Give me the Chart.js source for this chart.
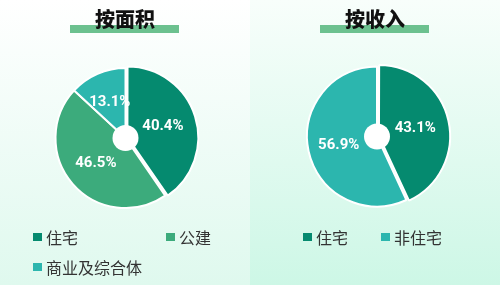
<!DOCTYPE html>
<html>
<head>
<meta charset="utf-8">
<script src="https://cdn.jsdelivr.net/npm/chart.js@4/dist/chart.umd.min.js"></script>
<style>
  html, body { margin: 0; padding: 0; width: 500px; height: 285px; overflow: hidden; }
  body { position: relative; font-family: "Noto Sans CJK SC", "Noto Sans", sans-serif; }
  .panel { position: absolute; top: 0; width: 250px; height: 285px; }
  #panelArea { left: 0; background: linear-gradient(#ffffff, #dff9ee); }
  #panelIncome { left: 250px; background: linear-gradient(#f8fefb, #cdf7e6); }
  .panel canvas { position: absolute; left: 0; top: 0; }
  .bar { position: absolute; left: 70px; top: 24.5px; width: 109px; height: 8.5px; background: #6cc18f; }
  .title { position: absolute; left: 0; top: 8.5px; width: 250px; text-align: center;
           font-size: 20px; line-height: 1; font-weight: 900; color: #111; }
  .legend { position: absolute; display: grid; }
  .legend .item { position: relative; height: 30px; font-size: 16px; line-height: 1;
                  color: #333; white-space: nowrap; }
  .legend .sw { position: absolute; left: 0; top: 4px; width: 9px; height: 8px; }
  .legend .txt { position: absolute; left: 13px; top: 0; }
</style>
</head>
<body>
<div class="panel" id="panelArea">
  <canvas id="chartArea" width="250" height="285"></canvas>
  <div class="bar"></div>
  <div class="title">按面积</div>
  <div class="legend" id="legendArea" style="left:33px; top:229px; grid-template-columns:133px 84px;"></div>
</div>
<div class="panel" id="panelIncome">
  <canvas id="chartIncome" width="250" height="285"></canvas>
  <div class="bar"></div>
  <div class="title">按收入</div>
  <div class="legend" id="legendIncome" style="left:53px; top:229px; grid-template-columns:78px 100px;"></div>
</div>
<script>
// Share of the portfolio by floor area
const areaCategories = ['住宅', '公建', '商业及综合体'];
const areaShares = [40.4, 46.5, 13.1];
const areaColors = ['#058a6f', '#3cab7c', '#2cb6ae'];

// Share of the portfolio by income
const incomeCategories = ['住宅', '非住宅'];
const incomeShares = [43.1, 56.9];
const incomeColors = ['#058a6f', '#2cb6ae'];

// White hub in the middle of each pie
const hubPlugin = {
  id: 'hub',
  afterDatasetsDraw(chart) {
    const arc = chart.getDatasetMeta(0).data[0];
    if (!arc) return;
    const ctx = chart.ctx;
    ctx.save();
    ctx.beginPath();
    ctx.arc(arc.x, arc.y, 13, 0, Math.PI * 2);
    ctx.fillStyle = '#ffffff';
    ctx.fill();
    ctx.restore();
  }
};

// Percentage label inside every slice
const sliceLabelPlugin = {
  id: 'sliceLabels',
  afterDatasetsDraw(chart) {
    const ctx = chart.ctx;
    const ds = chart.data.datasets[0];
    chart.getDatasetMeta(0).data.forEach((arc, i) => {
      const mid = (arc.startAngle + arc.endAngle) / 2;
      const r = arc.outerRadius * 0.56;
      const x = arc.x + Math.cos(mid) * r;
      const y = arc.y + Math.sin(mid) * r;
      ctx.save();
      ctx.font = 'bold 15px Roboto, "DejaVu Sans", sans-serif';
      ctx.fillStyle = '#ffffff';
      ctx.textAlign = 'center';
      ctx.textBaseline = 'middle';
      ctx.fillText(ds.data[i].toFixed(1) + '%', x, y);
      ctx.restore();
    });
  }
};

function makePie(canvasId, labels, values, colors, pad) {
  return new Chart(document.getElementById(canvasId), {
    type: 'pie',
    data: {
      labels: labels,
      datasets: [{
        data: values,
        backgroundColor: colors,
        borderColor: '#ffffff',
        borderWidth: 2,
        offset: values.map((v, i) => (i === 0 ? 8 : 0))
      }]
    },
    options: {
      responsive: false,
      animation: false,
      radius: 70,
      layout: { padding: pad },
      plugins: { legend: { display: false }, tooltip: { enabled: false } }
    },
    plugins: [hubPlugin, sliceLabelPlugin]
  });
}

function makeLegend(elId, labels, colors) {
  const el = document.getElementById(elId);
  labels.forEach((name, i) => {
    const item = document.createElement('div');
    item.className = 'item';
    const sw = document.createElement('span');
    sw.className = 'sw';
    sw.style.background = colors[i];
    const txt = document.createElement('span');
    txt.className = 'txt';
    txt.textContent = name;
    item.appendChild(sw);
    item.appendChild(txt);
    el.appendChild(item);
  });
}

makePie('chartArea', areaCategories, areaShares, areaColors, { left: 1, top: 0, right: 0, bottom: 9 });
makePie('chartIncome', incomeCategories, incomeShares, incomeColors, { left: 4, top: 0, right: 0, bottom: 12 });
makeLegend('legendArea', areaCategories, areaColors);
makeLegend('legendIncome', incomeCategories, incomeColors);
</script>
</body>
</html>
